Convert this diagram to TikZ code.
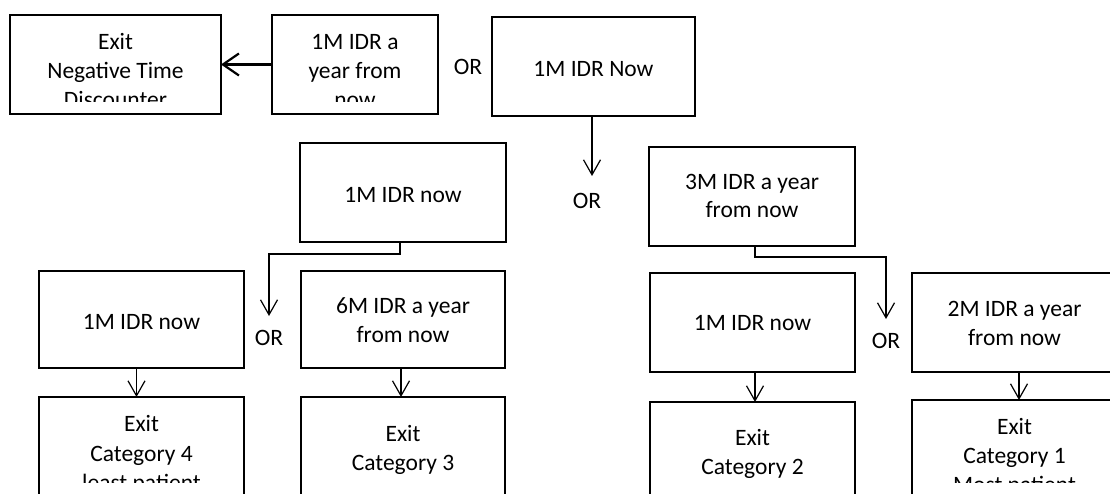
\documentclass[tikz,border=0pt]{standalone}
\usepackage{fontspec}
\setmainfont{Carlito}
\usetikzlibrary{arrows.meta,calc}
\tikzset{
  box/.style={draw, line width=2.5pt, rectangle, inner sep=0pt, outer sep=0pt},
  txt/.style={inner sep=0pt, anchor=base, font=\fontsize{23.5}{29}\selectfont},
  conn/.style={line width=1.2pt, -{Straight Barb[length=15pt,width=17pt,line width=1.2pt]}},
  thickconn/.style={line width=2.2pt, -{Straight Barb[length=16pt,width=22pt,line width=2.2pt]}},
}
\newcommand\mybx[5]{\node[box, minimum width={(#4-#2)*1pt}, minimum height={(#5-#3)*1pt}] (#1) at ({(#2+#4)/2},{(#3+#5)/2}) {};}
\begin{document}
\begin{tikzpicture}[x=1pt,y=-1pt]
\useasboundingbox (0,0) rectangle (1110,494);
\clip (0,0) rectangle (1110,494);
\fill[white] (0,0) rectangle (1110,494);

% boxes
\mybx{A}{10}{15}{221}{114}
\mybx{B}{272}{15}{438}{114}
\mybx{C}{492}{17}{695}{116}
\mybx{D}{300}{143}{506}{242}
\mybx{E}{649}{147}{855}{246}
\mybx{F}{39}{271}{244}{368}
\mybx{G}{301}{271}{505}{368}
\mybx{H}{39}{397}{244}{497}
\mybx{I}{301}{397}{505}{497}
\mybx{J}{650}{273}{855}{372}
\mybx{K}{912}{273}{1117}{372}
\mybx{L}{650}{402}{855}{497}
\mybx{M}{912}{400}{1117}{497}

% texts (clipped where the box text overflows)
\begin{scope}
\clip (12,17) rectangle (219,102);
\node[txt] (tA1) at (115.5,50) {Exit};
\node[txt] (tA2) at (115.5,79) {Negative Time};
\node[txt] (tA3) at (115.5,108) {Discounter};
\end{scope}
\begin{scope}
\clip (274,17) rectangle (436,102);
\node[txt] (tB1) at (355,50) {1M IDR a};
\node[txt] (tB2) at (355,79) {year from};
\node[txt] (tB3) at (355,108) {now};
\end{scope}
\node[txt] (tC) at (593.5,77) {1M IDR Now};
\node[txt] (tD) at (403,203) {1M IDR now};
\node[txt] (tE1) at (752,190) {3M IDR a year};
\node[txt] (tE2) at (752,218) {from now};
\node[txt] (tF) at (141.5,329) {1M IDR now};
\node[txt] (tG1) at (403,313) {6M IDR a year};
\node[txt] (tG2) at (403,342) {from now};
\begin{scope}
\clip (41,399) rectangle (242,482);
\node[txt] (tH1) at (141.5,431) {Exit};
\node[txt] (tH2) at (141.5,461) {Category 4};
\node[txt] (tH3) at (141.5,490) {least patient};
\end{scope}
\node[txt] (tI1) at (403,441) {Exit};
\node[txt] (tI2) at (403,470) {Category 3};
\node[txt] (tJ) at (752.5,330) {1M IDR now};
\node[txt] (tK1) at (1014.5,316) {2M IDR a year};
\node[txt] (tK2) at (1014.5,345) {from now};
\node[txt] (tL1) at (752.5,445) {Exit};
\node[txt] (tL2) at (752.5,474) {Category 2};
\begin{scope}
\clip (914,402) rectangle (1115,482);
\node[txt] (tM1) at (1014.5,434) {Exit};
\node[txt] (tM2) at (1014.5,463) {Category 1};
\node[txt] (tM3) at (1014.5,492) {Most patient};
\end{scope}

% OR labels
\node[txt] (or1) at (468,75) {OR};
\node[txt] (or2) at (587,209) {OR};
\node[txt] (or3) at (269,345) {OR};
\node[txt] (or4) at (886,348) {OR};

% connector end points
\coordinate (cEnd) at (592,176);
\coordinate (dEnd) at (269,316);
\coordinate (eEnd) at (886,319);

% connectors
\draw[thickconn] (B.west) -- (A.east);
\draw[conn] (C.south -| cEnd) -- (cEnd);
\draw[conn] ([xshift=-3pt]D.south) -- ++(0,12) -| (dEnd);
\draw[conn] ([xshift=3pt]E.south) -- ++(0,11) -| (eEnd);
\draw[conn] ([xshift=-5pt]F.south) -- ([xshift=-5pt]H.north);
\draw[conn] ([xshift=-2pt]G.south) -- ([xshift=-2pt]I.north);
\draw[conn] ([xshift=2.5pt]J.south) -- ([xshift=2.5pt]J.south |- L.north);
\draw[conn] ([xshift=4.5pt]K.south) -- ([xshift=4.5pt]K.south |- M.north);
\end{tikzpicture}
\end{document}
